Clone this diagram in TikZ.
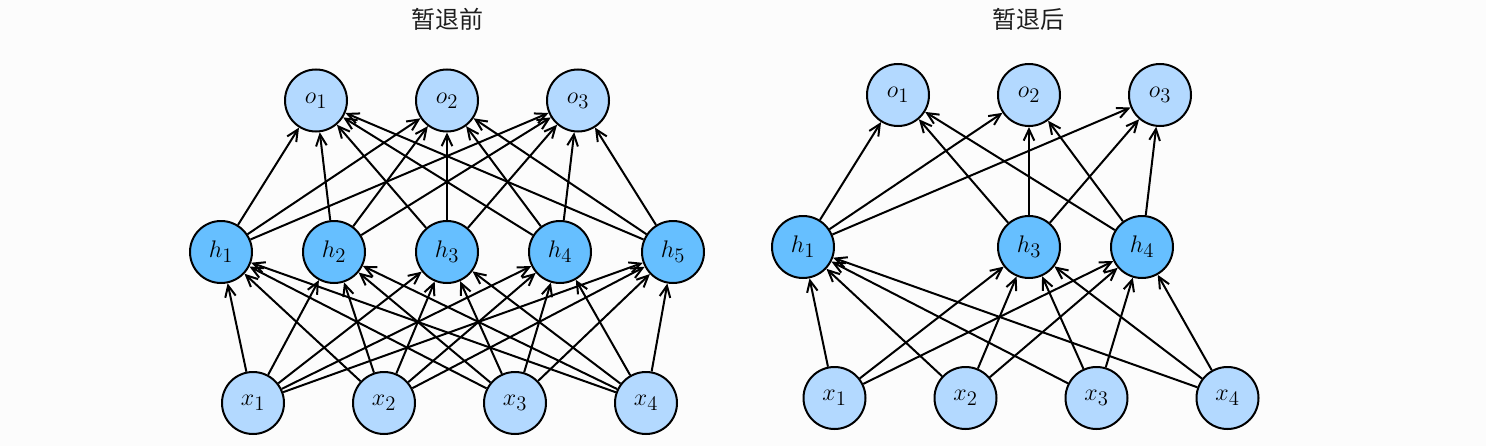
\RequirePackage{fix-cm}
\documentclass[tikz,border=0pt]{standalone}
\usepackage{fontspec}
\newfontfamily\cjk{Noto Sans CJK SC}
\usetikzlibrary{arrows.meta}
\DeclareMathSizes{18}{18}{15.5}{12}
\definecolor{bgc}{RGB}{252,252,252}
\definecolor{lightc}{RGB}{179,217,255}
\definecolor{darkc}{RGB}{102,191,255}

\begin{document}
\begin{tikzpicture}[x=0.75pt,y=0.75pt,yscale=-1,xscale=1,
  unit/.style={circle,draw=black,line width=1.5pt,inner sep=0pt,minimum size=46.5pt,font=\fontsize{18}{21}\selectfont},
  inp/.style={unit,fill=lightc},
  hid/.style={unit,fill=darkc},
  arr/.style={line width=1.5pt,-{Straight Barb[length=8.5pt,width=8pt,line width=1.5pt]}},
  ttl/.style={inner sep=0.75pt,font=\cjk\fontsize{18}{21}\selectfont,text={rgb,255:red,30;green,30;blue,30}}]
%set diagram size 1486 x 446
\useasboundingbox[fill=bgc] (0,0) rectangle (1486,446);

% Text Node
\node (tl) [ttl] at (447,19.5) {暂退前};
% Text Node
\node (tr) [ttl] at (1028.5,19.5) {暂退后};

%Shape: Circle (left, output)
\node (lo1) [inp] at (316,100.5) {$o_1$};
\node (lo2) [inp] at (447,100.5) {$o_2$};
\node (lo3) [inp] at (578,100.5) {$o_3$};
%Shape: Circle (left, hidden)
\node (lh1) [hid] at (221,252) {$h_1$};
\node (lh2) [hid] at (334,252) {$h_2$};
\node (lh3) [hid] at (447,252) {$h_3$};
\node (lh4) [hid] at (560,252) {$h_4$};
\node (lh5) [hid] at (673,252) {$h_5$};
%Shape: Circle (left, input)
\node (lx1) [inp] at (253,403) {$x_1$};
\node (lx2) [inp] at (384,403) {$x_2$};
\node (lx3) [inp] at (515,403) {$x_3$};
\node (lx4) [inp] at (646,403) {$x_4$};

%Shape: Circle (right, output)
\node (ro1) [inp] at (898,95) {$o_1$};
\node (ro2) [inp] at (1029,95) {$o_2$};
\node (ro3) [inp] at (1160,95) {$o_3$};
%Shape: Circle (right, hidden)
\node (rh1) [hid] at (803,247) {$h_1$};
\node (rh3) [hid] at (1029,247) {$h_3$};
\node (rh4) [hid] at (1142,247) {$h_4$};
%Shape: Circle (right, input)
\node (rx1) [inp] at (834.5,398) {$x_1$};
\node (rx2) [inp] at (965.5,398) {$x_2$};
\node (rx3) [inp] at (1096.5,398) {$x_3$};
\node (rx4) [inp] at (1227.5,398) {$x_4$};

%Straight Lines (left, input to hidden)
\draw [arr] (lx1) -- (lh1);
\draw [arr] (lx1) -- (lh2);
\draw [arr] (lx1) -- (lh3);
\draw [arr] (lx1) -- (lh4);
\draw [arr] (lx1) -- (lh5);
\draw [arr] (lx2) -- (lh1);
\draw [arr] (lx2) -- (lh2);
\draw [arr] (lx2) -- (lh3);
\draw [arr] (lx2) -- (lh4);
\draw [arr] (lx2) -- (lh5);
\draw [arr] (lx3) -- (lh1);
\draw [arr] (lx3) -- (lh2);
\draw [arr] (lx3) -- (lh3);
\draw [arr] (lx3) -- (lh4);
\draw [arr] (lx3) -- (lh5);
\draw [arr] (lx4) -- (lh1);
\draw [arr] (lx4) -- (lh2);
\draw [arr] (lx4) -- (lh3);
\draw [arr] (lx4) -- (lh4);
\draw [arr] (lx4) -- (lh5);
%Straight Lines (left, hidden to output)
\draw [arr] (lh1) -- (lo1);
\draw [arr] (lh1) -- (lo2);
\draw [arr] (lh1) -- (lo3);
\draw [arr] (lh2) -- (lo1);
\draw [arr] (lh2) -- (lo2);
\draw [arr] (lh2) -- (lo3);
\draw [arr] (lh3) -- (lo1);
\draw [arr] (lh3) -- (lo2);
\draw [arr] (lh3) -- (lo3);
\draw [arr] (lh4) -- (lo1);
\draw [arr] (lh4) -- (lo2);
\draw [arr] (lh4) -- (lo3);
\draw [arr] (lh5) -- (lo1);
\draw [arr] (lh5) -- (lo2);
\draw [arr] (lh5) -- (lo3);

%Straight Lines (right, input to hidden)
\draw [arr] (rx1) -- (rh1);
\draw [arr] (rx1) -- (rh3);
\draw [arr] (rx1) -- (rh4);
\draw [arr] (rx2) -- (rh1);
\draw [arr] (rx2) -- (rh3);
\draw [arr] (rx2) -- (rh4);
\draw [arr] (rx3) -- (rh1);
\draw [arr] (rx3) -- (rh3);
\draw [arr] (rx3) -- (rh4);
\draw [arr] (rx4) -- (rh1);
\draw [arr] (rx4) -- (rh3);
\draw [arr] (rx4) -- (rh4);
%Straight Lines (right, hidden to output)
\draw [arr] (rh1) -- (ro1);
\draw [arr] (rh1) -- (ro2);
\draw [arr] (rh1) -- (ro3);
\draw [arr] (rh3) -- (ro1);
\draw [arr] (rh3) -- (ro2);
\draw [arr] (rh3) -- (ro3);
\draw [arr] (rh4) -- (ro1);
\draw [arr] (rh4) -- (ro2);
\draw [arr] (rh4) -- (ro3);

\end{tikzpicture}
\end{document}
